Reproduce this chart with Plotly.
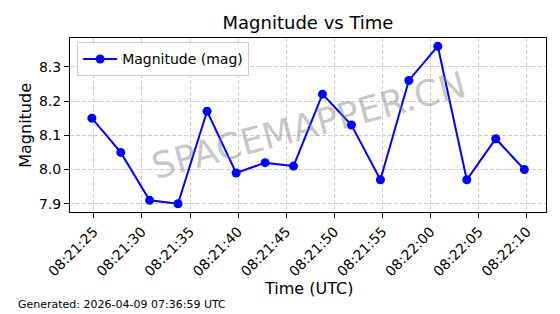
import plotly.graph_objects as go

times = ["2026-04-09 08:21:24.8", "2026-04-09 08:21:27.8", "2026-04-09 08:21:30.8",
         "2026-04-09 08:21:33.75", "2026-04-09 08:21:36.77", "2026-04-09 08:21:39.79",
         "2026-04-09 08:21:42.8", "2026-04-09 08:21:45.75", "2026-04-09 08:21:48.76",
         "2026-04-09 08:21:51.77", "2026-04-09 08:21:54.78", "2026-04-09 08:21:57.73",
         "2026-04-09 08:22:00.74", "2026-04-09 08:22:03.75", "2026-04-09 08:22:06.76",
         "2026-04-09 08:22:09.73"]
magnitudes = [8.15, 8.05, 7.91, 7.90, 8.17, 7.99, 8.02, 8.01, 8.22, 8.13, 7.97, 8.26, 8.36, 7.97, 8.09, 8.00]
x_range = ["2026-04-09 08:21:22.53", "2026-04-09 08:22:11.98"]
y_range = [7.876, 8.384]
y_ticks = [7.9, 8.0, 8.1, 8.2, 8.3]
title = "Magnitude vs Time"
series_name = "Magnitude (mag)"
footer = "Generated: 2026-04-09 07:36:59 UTC"
watermark = "SPACEMAPPER.CN"

FONT = "DejaVu Sans"

fig = go.Figure()
fig.add_trace(go.Scatter(
    x=times, y=magnitudes, mode="lines+markers", name=series_name,
    line=dict(color="#0000ff", width=2),
    marker=dict(color="#0000ff", size=9),
))

fig.update_layout(
    width=560, height=314,
    margin=dict(l=70, r=14, t=38, b=102),
    paper_bgcolor="white", plot_bgcolor="white",
    font=dict(family=FONT, color="black", size=14),
    title=dict(text=title, x=0.55, xanchor="center", y=0.927, yanchor="middle",
               font=dict(size=18, family=FONT)),
    showlegend=True,
    legend=dict(x=0.015, y=0.975, xanchor="left", yanchor="top",
                bgcolor="rgba(255,255,255,0.8)", bordercolor="#cccccc", borderwidth=1,
                font=dict(size=14, family=FONT), itemwidth=34),
)

fig.update_xaxes(
    type="date", range=x_range, tickformat="%H:%M:%S",
    tick0="2026-04-09 08:21:25", dtick=5000, tickangle=-45,
    showline=True, linecolor="black", linewidth=1, mirror=True,
    ticks="outside", ticklen=5, tickcolor="black",
    showgrid=True, gridcolor="#cccccc", griddash="4px,2px", gridwidth=1,
    tickfont=dict(size=14, family=FONT), zeroline=False,
)
fig.update_yaxes(
    range=y_range, tickvals=y_ticks, tickformat=".1f",
    showline=True, linecolor="black", linewidth=1, mirror=True,
    ticks="outside", ticklen=5, tickcolor="black",
    showgrid=True, gridcolor="#cccccc", griddash="4px,2px", gridwidth=1,
    tickfont=dict(size=14, family=FONT), zeroline=False,
)

fig.add_annotation(text="Time (UTC)", xref="paper", yref="paper", x=0.5, y=-0.44,
                   xanchor="center", yanchor="middle", showarrow=False,
                   font=dict(size=16, family=FONT))
fig.add_annotation(text="Magnitude", xref="paper", yref="paper", x=-0.095, y=0.5,
                   xanchor="center", yanchor="middle", showarrow=False, textangle=-90,
                   font=dict(size=16, family=FONT))
fig.add_annotation(text=footer, xref="paper", yref="paper", x=-0.113, y=-0.53,
                   xanchor="left", yanchor="middle", showarrow=False,
                   font=dict(size=11, family=FONT))
fig.add_annotation(text=watermark, xref="paper", yref="paper", x=0.5, y=0.5,
                   xanchor="center", yanchor="middle", showarrow=False, textangle=-15,
                   font=dict(size=36, family=FONT, color="rgba(128,128,128,0.45)"))

fig.write_html("out.html")
